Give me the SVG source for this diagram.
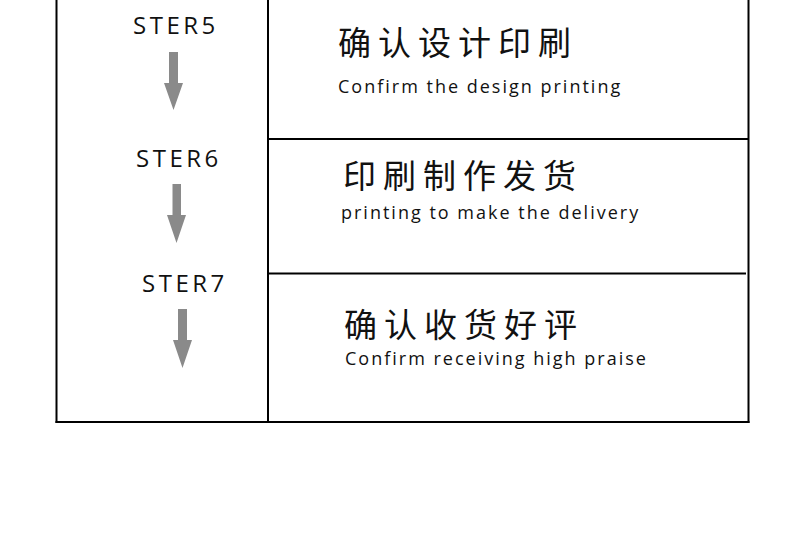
<svg xmlns="http://www.w3.org/2000/svg" width="800" height="543" viewBox="0 0 800 543">
<style>
.ln{stroke:#000;stroke-width:2;fill:none}
.st{font-family:"Open Sans","Liberation Sans",sans-serif;font-size:24px;letter-spacing:3.5px;fill:#111}
.cn{font-family:"Noto Sans CJK SC",sans-serif;font-size:33px;letter-spacing:7px;fill:#111}
.en{font-family:"Open Sans","Liberation Sans",sans-serif;font-size:18px;letter-spacing:2px;fill:#111}
.ar{fill:#8a8a8a}
</style>
<rect width="800" height="543" fill="#fff"/>
<g id="frame">
<line class="ln" x1="56.5" y1="0" x2="56.5" y2="423"/>
<line class="ln" x1="268" y1="0" x2="268" y2="423"/>
<line class="ln" x1="748.5" y1="0" x2="748.5" y2="423"/>
<line class="ln" x1="55.5" y1="422" x2="749.5" y2="422"/>
<line class="ln" x1="268" y1="139" x2="749" y2="139"/>
<line class="ln" x1="268" y1="273.5" x2="746" y2="273.5"/>
</g>
<g id="step5">
<text class="st" x="133" y="34">STER5</text>
<text class="cn" x="338" y="54.5">确认设计印刷</text>
<text class="en" x="338" y="92.5">Confirm the design printing</text>
</g>
<g id="step6">
<text class="st" x="136" y="166.5">STER6</text>
<text class="cn" x="343" y="188">印刷制作发货</text>
<text class="en" x="341" y="218.5">printing to make the delivery</text>
</g>
<g id="step7">
<text class="st" x="142" y="292">STER7</text>
<text class="cn" x="344" y="337">确认收货好评</text>
<text class="en" x="345" y="365">Confirm receiving high praise</text>
</g>
<g id="connectors">
<polygon class="ar" points="169,52 178,52 178,83 183,83 173.5,110 164,83 169,83"/>
<polygon class="ar" points="172.5,184 181,184 181,215 186,215 176.5,243 167,215 172.5,215"/>
<polygon class="ar" points="178,309 187,309 187,340 192,340 182.5,368 173,340 178,340"/>
</g>
</svg>
